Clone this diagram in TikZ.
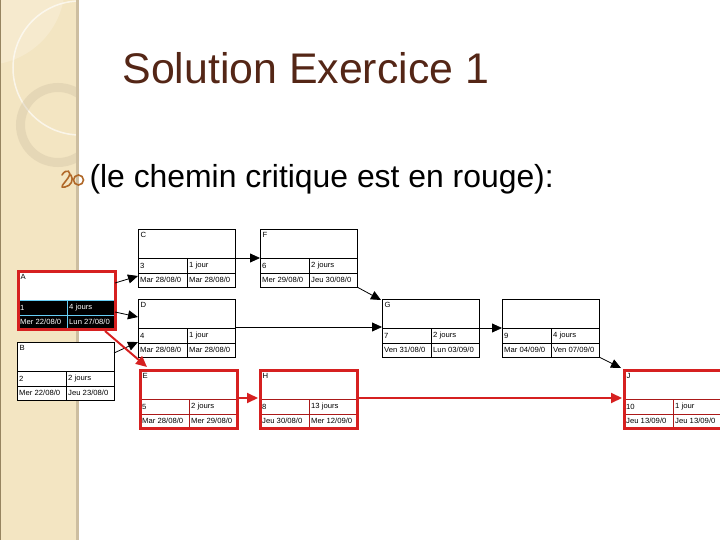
\documentclass[tikz,border=0pt]{standalone}
\usepackage{fontspec}
\setmainfont{Liberation Sans}
\usetikzlibrary{arrows.meta,calc}

\definecolor{rouge}{RGB}{214,32,32}
\definecolor{brun}{RGB}{84,38,22}
\definecolor{beige}{RGB}{243,229,194}
\definecolor{beigefonce}{RGB}{205,190,160}
\definecolor{beigeclair}{RGB}{248,238,214}
\definecolor{olive}{RGB}{150,132,96}
\definecolor{puce}{RGB}{176,104,40}
% couleurs des cases selon la tache
\colorlet{fondsimple}{white}
\colorlet{fondcritique}{white}
\colorlet{fondactif}{black}
\colorlet{textesimple}{black}
\colorlet{textecritique}{black}
\colorlet{texteactif}{white}
\colorlet{lignesimple}{black}
\colorlet{lignecritique}{rouge!80!black}
\colorlet{ligneactif}{cyan!60!white}

% texte un peu elargi dans les cases
\newcommand{\cellule}[1]{\scalebox{1.03}[1]{#1}}

\tikzset{
  tache/.style={anchor=north west, minimum width=97bp, minimum height=58bp,
    inner sep=0pt, outer sep=0pt, fill=white},
  simple/.style={draw=black, line width=0.7bp},
  critique/.style={draw=rouge, line width=3bp},
  actif/.style={draw=rouge, line width=3bp},
  case/.style={inner sep=0pt, font=\fontsize{7.5}{8}\selectfont},
  lien/.style={-{Triangle[length=10bp,width=9bp]}, line width=0.8bp},
  lienrouge/.style={-{Triangle[length=11bp,width=10bp]}, line width=2bp, rouge},
}

\begin{document}
\begin{tikzpicture}[x=1bp, y=-1bp]
    \useasboundingbox (0,0) rectangle (720,540);

    % Bandeau de gauche
    \begin{scope}
        \clip (0,0) rectangle (79,540);
        \fill[beige] (0,0) rectangle (79,540);
        \fill[beigeclair, opacity=0.6] (-15,-15) circle (80);
        \draw[white, opacity=0.65, line width=1.5bp] (80,68) circle (67);
        \draw[beigefonce, opacity=0.35, line width=9bp] (58,125) circle (37.5);
        \fill[beigefonce] (76,0) rectangle (79,540);
        \fill[olive] (0,0) rectangle (1.2,540);
    \end{scope}

    % Titre
    \node[anchor=base west, text=brun, font=\fontsize{43}{50}\selectfont] (titre)
        at (119,84) {Solution Exercice 1};
    % Puce
    \draw[puce, line width=1.6bp, line cap=round]
        (62,175) .. controls (66,168) and (73,171) .. (68,178)
        .. controls (63,185) and (59,188) .. (65,187)
        .. controls (71,186) and (74,180) .. (71,175);
    \draw[puce, line width=1.6bp] (78.5,180) circle (5);
    \node[anchor=base west, font=\fontsize{32}{38}\selectfont] (soustitre)
        at (86,188) {(le chemin critique est en rouge):};

    % Les taches
    \foreach \nom/\lettre/\x/\y/\num/\duree/\debut/\fin/\sty in {
        A/A/18/271/1/{4 jours}/{Mer 22/08/0}/{Lun 27/08/0}/actif,
        B/B/17/342/2/{2 jours}/{Mer 22/08/0}/{Jeu 23/08/0}/simple,
        C/C/138/229/3/{1 jour}/{Mar 28/08/0}/{Mar 28/08/0}/simple,
        D/D/138/299/4/{1 jour}/{Mar 28/08/0}/{Mar 28/08/0}/simple,
        E/E/140/370/5/{2 jours}/{Mar 28/08/0}/{Mer 29/08/0}/critique,
        F/F/260/229/6/{2 jours}/{Mer 29/08/0}/{Jeu 30/08/0}/simple,
        G/G/382/299/7/{2 jours}/{Ven 31/08/0}/{Lun 03/09/0}/simple,
        H/H/260/370/8/{13 jours}/{Jeu 30/08/0}/{Mer 12/09/0}/critique,
        I/{}/502/299/9/{4 jours}/{Mar 04/09/0}/{Ven 07/09/0}/simple,
        J/J/624/370/10/{1 jour}/{Jeu 13/09/0}/{Jeu 13/09/0}/critique} {
        \node[tache] (\nom) at (\x,\y) {};
        \fill[fond\sty] ($(\nom.north west)+(0,29)$) rectangle (\nom.south east);
        \draw[ligne\sty, line width=0.7bp]
            ($(\nom.north west)+(0,29)$) -- ($(\nom.north east)+(0,29)$)
            ($(\nom.north west)+(0,44)$) -- ($(\nom.north east)+(0,44)$)
            ($(\nom.north west)+(49,29)$) -- ($(\nom.south west)+(49,0)$);
        \draw[\sty] (\nom.north west) rectangle (\nom.south east);
        \node[case, anchor=north west] (\nom-lettre) at ($(\nom.north west)+(2.5,3.5)$) {\cellule{\lettre}};
        \node[case, anchor=west, text=texte\sty] (\nom-num) at ($(\nom.north west)+(2,36.5)$) {\cellule{\num}};
        \node[case, anchor=west, text=texte\sty] (\nom-duree) at ($(\nom.north west)+(51,36.5)$) {\cellule{\duree}};
        \node[case, anchor=west, text=texte\sty] (\nom-debut) at ($(\nom.north west)+(2,51)$) {\cellule{\debut}};
        \node[case, anchor=west, text=texte\sty] (\nom-fin) at ($(\nom.north west)+(51,51)$) {\cellule{\fin}};
    }

    % Liens
    \draw[lien] ($(A.north east)+(0,12)$) -- ($(C.north west)+(0,47)$);
    \draw[lien] ($(A.north east)+(0,41)$) -- ($(D.north west)+(0,18)$);
    \draw[lien] ($(B.north east)+(0,11)$) -- ($(D.north west)+(0,43)$);
    \draw[lien] ($(C.north east)+(0,29)$) -- ($(F.north west)+(0,29)$);
    \draw[lien] ($(D.north east)+(0,28)$) -- ($(G.north west)+(0,28)$);
    \draw[lien] (F.south east) -- ($(G.north west)+(-1,1)$);
    \draw[lien] ($(G.north east)+(0,29)$) -- ($(I.north west)+(0,29)$);
    \draw[lien] (I.south east) -- ($(J.north west)+(-3,-2)$);

    % Chemin critique
    \draw[lienrouge] ($(A.south east)+(-10,2)$) -- ($(E.north west)+(7,-3)$);
    \draw[lienrouge] ($(E.north east)+(1.5,28)$) -- ($(H.north west)+(-2,28)$);
    \draw[lienrouge] ($(H.north east)+(1.5,28)$) -- ($(J.north west)+(-2,28)$);
\end{tikzpicture}
\end{document}
